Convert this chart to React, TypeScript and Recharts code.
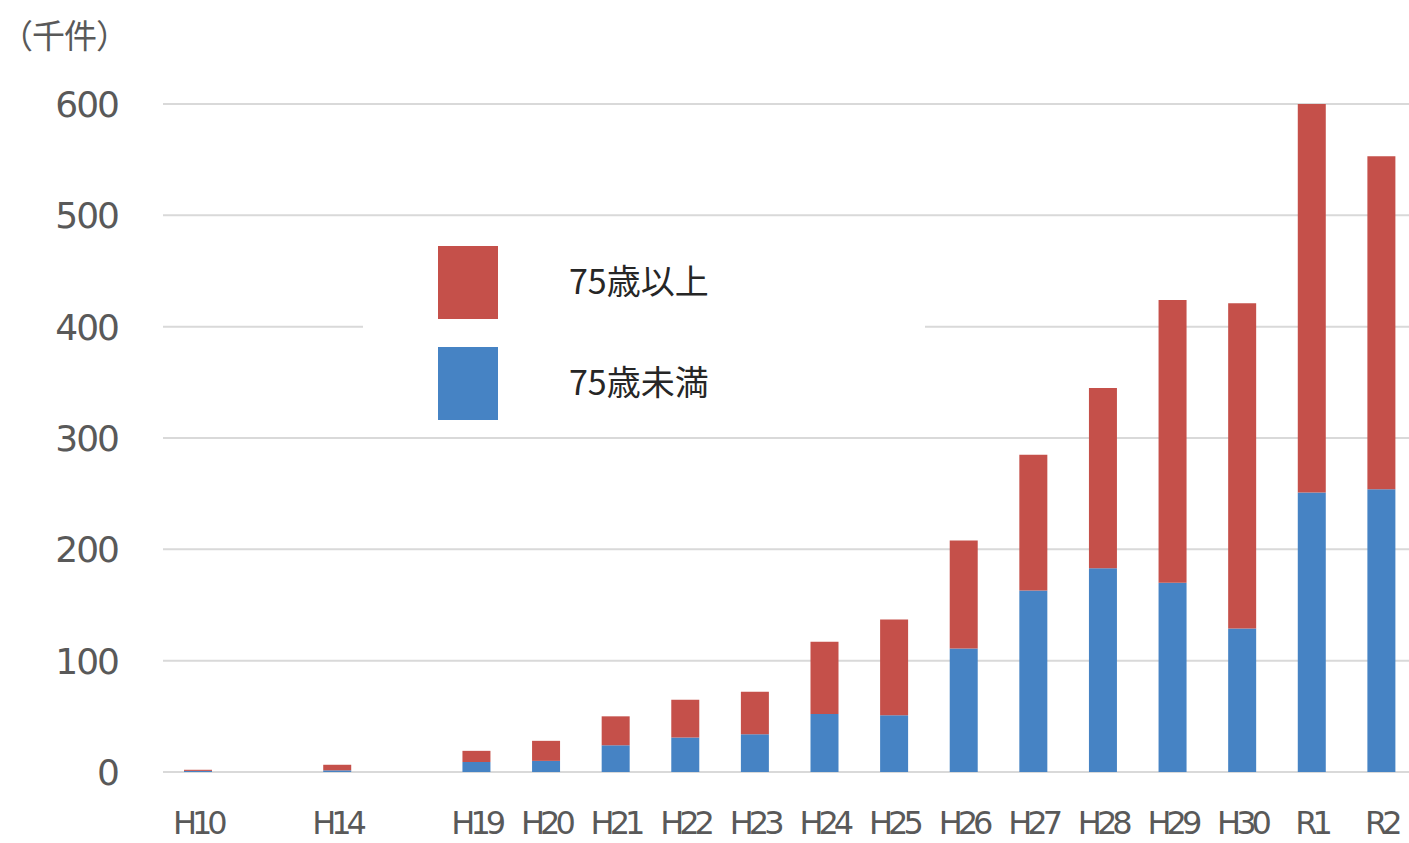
// 高齢者運転関連の件数（千件）— 75歳未満 / 75歳以上 の積み上げ棒グラフ
import { Bar, BarChart, CartesianGrid, XAxis, YAxis } from 'recharts';

const categories = ['H10', '', 'H14', '', 'H19', 'H20', 'H21', 'H22', 'H23', 'H24', 'H25', 'H26', 'H27', 'H28', 'H29', 'H30', 'R1', 'R2'];
const under75 = [1, null, 1.5, null, 9, 10, 24, 31, 34, 52, 51, 111, 163, 183, 170, 129, 251, 254];
const over75 = [1, null, 5, null, 10, 18, 26, 34, 38, 65, 86, 97, 122, 162, 254, 292, 349, 299];
const yTicks = [0, 100, 200, 300, 400, 500, 600];

const SERIES = [
  { key: 'under', name: '75歳未満', color: '#4683C4' },
  { key: 'over', name: '75歳以上', color: '#C5504A' },
];

const COLORS = {
  grid: '#d9d9d9',
  tick: '#595959',
  legendText: '#262626',
};

const NUM_FONT = '"DejaVu Sans", Verdana, sans-serif';
const JP_FONT = '"Noto Sans CJK JP", "Noto Sans", sans-serif';

const data = categories.map((c, i) => ({ cat: c, under: under75[i], over: over75[i] }));

function XTick({ x, y, payload }: any) {
  return (
    <text
      x={x}
      y={y + 54}
      textAnchor="middle"
      fill={COLORS.tick}
      fontSize={32}
      fontFamily={NUM_FONT}
      letterSpacing={-5}
    >
      {payload.value}
    </text>
  );
}

function YTick({ y, payload }: any) {
  return (
    <text
      x={118}
      y={y}
      dy={13}
      textAnchor="end"
      fill={COLORS.tick}
      fontSize={36}
      fontFamily={NUM_FONT}
      letterSpacing={-2}
    >
      {payload.value}
    </text>
  );
}

function LegendBox() {
  // 凡例は上から 75歳以上（赤）、75歳未満（青）
  const items = [...SERIES].reverse();
  return (
    <div
      style={{
        position: 'absolute',
        left: 363,
        top: 227,
        width: 562,
        height: 203,
        background: '#fff',
      }}
    >
      {items.map((s, i) => (
        <div key={s.key}>
          <div
            style={{
              position: 'absolute',
              left: 75,
              top: 19 + i * 101,
              width: 60,
              height: 73,
              background: s.color,
            }}
          />
          <div
            style={{
              position: 'absolute',
              left: 206,
              top: 33 + i * 101,
              fontSize: 34,
              lineHeight: '40px',
              fontFamily: JP_FONT,
              color: COLORS.legendText,
              letterSpacing: 0,
            }}
          >
            {s.name}
          </div>
        </div>
      ))}
    </div>
  );
}

export default function App() {
  return (
    <div
      style={{
        position: 'absolute',
        left: 0,
        top: 0,
        width: 1409,
        height: 843,
        overflow: 'hidden',
        background: '#fff',
      }}
    >
      <div
        style={{
          position: 'absolute',
          left: 0,
          top: 14,
          fontSize: 33,
          fontFamily: JP_FONT,
          color: COLORS.tick,
          lineHeight: '40px',
          letterSpacing: -1,
        }}
      >
        （千件）
      </div>
      <BarChart
        width={1420}
        height={843}
        data={data}
        margin={{ top: 104, right: 4, bottom: 0, left: 0 }}
        barSize={28}
      >
        <CartesianGrid stroke={COLORS.grid} strokeWidth={2} vertical={false} />
        <XAxis
          dataKey="cat"
          axisLine={false}
          tickLine={false}
          height={71}
          interval={0}
          tick={<XTick />}
        />
        <YAxis
          domain={[0, 600]}
          ticks={yTicks}
          axisLine={false}
          tickLine={false}
          width={163}
          tick={<YTick />}
        />
        {SERIES.map((s) => (
          <Bar
            key={s.key}
            dataKey={s.key}
            name={s.name}
            stackId="a"
            fill={s.color}
            isAnimationActive={false}
          />
        ))}
      </BarChart>
      <LegendBox />
    </div>
  );
}
